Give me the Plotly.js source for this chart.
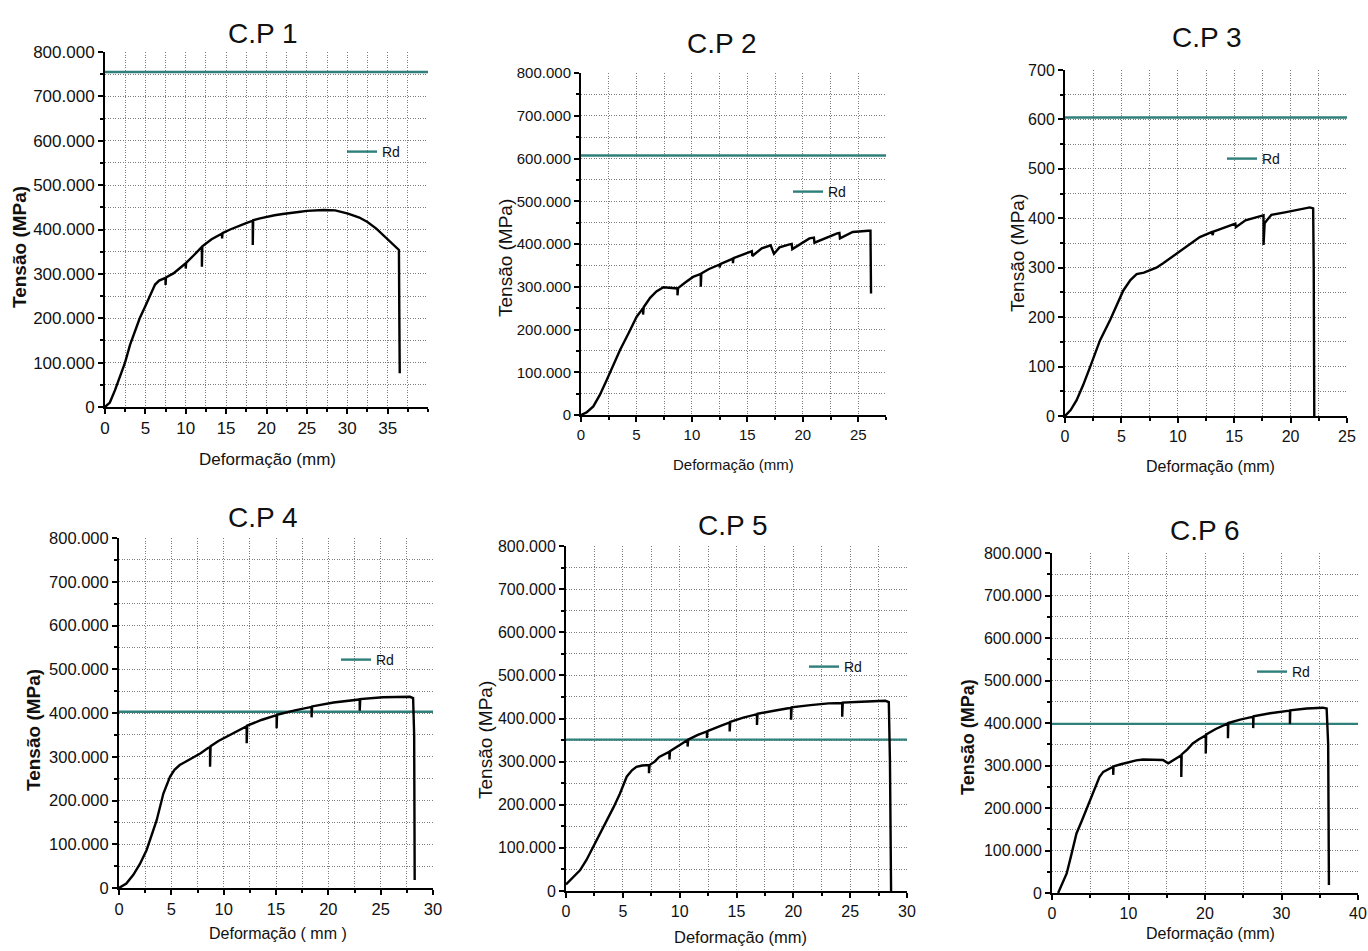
<!DOCTYPE html>
<html>
<head>
<meta charset="utf-8">
<script src="https://cdn.plot.ly/plotly-3.0.1.min.js"></script>
<style>html,body{margin:0;padding:0;background:#fff;}#chart{width:1368px;height:951px;}</style>
</head>
<body>
<div id="chart"></div>
<script>
// ---------------- DATA ----------------
const panelTitles = ['C.P 1', 'C.P 2', 'C.P 3', 'C.P 4', 'C.P 5', 'C.P 6'];
const yAxisTitle = 'Tensão (MPa)';
const xAxisTitles = ['Deformação (mm)', 'Deformação (mm)', 'Deformação (mm)', 'Deformação ( mm )', 'Deformação (mm)', 'Deformação (mm)'];
const rdName = 'Rd';
const rdValues = [755, 607, 604, 403, 351, 398];

const cp1X = [0, 0.6, 1.24, 1.9, 2.48, 3.1, 3.72, 4.3, 4.96, 5.6, 6.2, 6.7, 7.24, 7.5, 7.5, 7.55, 8.47, 9.3, 10, 10, 10.05, 11, 12.0, 12.0, 12.05, 13.2, 14.5, 14.5, 14.55, 15.5, 16.5, 17.4, 18.3, 18.3, 18.35, 19.2, 20.06, 21, 22, 23, 24.2, 25, 26, 27.1, 28.5, 29.3, 30.1, 31.5, 32.5, 33.6, 34.5, 35.5, 36.4, 36.45, 36.5];
const cp1Y = [0, 10, 38, 70, 100, 140, 173, 200, 226, 253, 276, 285, 290, 291, 275, 292, 301, 313, 324, 312, 325, 342, 361, 316, 362, 378, 391, 380, 392, 400, 408, 414, 420, 365, 421, 425, 429, 432, 435, 438, 440, 442, 443, 444, 443, 440, 436, 427, 417, 402, 386, 370, 354, 200, 76];

const cp2X = [0, 0.5, 1.11, 1.7, 2.32, 2.9, 3.52, 4.3, 5.02, 5.6, 5.6, 5.65, 6.23, 6.8, 7.43, 8.0, 8.7, 8.7, 8.75, 9.4, 10.1, 10.8, 10.8, 10.85, 11.5, 12.2, 12.5, 12.5, 12.55, 13.7, 13.7, 13.75, 15.3, 15.4, 15.45, 16.3, 17.1, 17.4, 17.6, 17.9, 18.8, 19.0, 19.05, 20.6, 21.0, 21.05, 23.1, 23.3, 23.35, 24.5, 25.9, 26.1, 26.15];
const cp2Y = [0, 6, 20, 47, 82, 118, 152, 192, 230, 250, 235, 252, 274, 289, 299, 298, 296, 280, 297, 310, 323, 330, 300, 331, 341, 350, 352, 345, 353, 366, 355, 367, 382, 383, 372, 390, 397, 377, 383, 392, 399, 400, 388, 413, 415, 403, 425, 426, 413, 428, 431, 431, 284];

const cp3X = [0, 0.5, 1.03, 1.6, 2.22, 3.1, 4.0, 4.6, 5.17, 5.8, 6.35, 7.0, 7.5, 8.1, 8.7, 9.9, 11.0, 11.95, 13.0, 13.1, 13.15, 14.9, 15.1, 15.15, 16.0, 17.25, 17.6, 17.6, 17.7, 17.9, 18.3, 19.5, 20.4, 21.0, 21.7, 22.0, 22.05, 22.1];
const cp3Y = [0, 12, 32, 62, 99, 153, 194, 225, 254, 275, 287, 290, 294, 300, 309, 329, 346, 362, 372, 366, 373, 388, 389, 382, 396, 404, 406, 346, 390, 396, 407, 412, 416, 419, 422, 420, 300, 0];

const cp4X = [0, 0.7, 1.37, 2.0, 2.64, 3.1, 3.6, 4.24, 4.87, 5.3, 5.8, 6.4, 6.96, 7.8, 8.5, 8.7, 8.7, 8.75, 9.5, 10.3, 11.3, 12.2, 12.2, 12.25, 13.6, 15.06, 15.06, 15.1, 16.8, 18.4, 18.4, 18.45, 20.5, 21.8, 23.0, 23.0, 23.05, 25.2, 27.8, 28.1, 28.2, 28.25];
const cp4Y = [0, 10, 30, 55, 87, 118, 155, 216, 254, 270, 281, 289, 296, 308, 320, 322, 277, 324, 336, 346, 358, 370, 331, 371, 384, 395, 365, 396, 406, 414, 390, 415, 424, 428, 431, 405, 432, 436, 437, 434, 350, 18];

const cp5X = [0, 0.6, 1.23, 1.8, 2.4, 3.0, 3.58, 4.2, 4.75, 5.34, 5.8, 6.2, 6.7, 7.2, 7.3, 7.3, 7.35, 7.8, 8.2, 9.1, 9.1, 9.15, 9.8, 10.4, 10.7, 10.7, 10.75, 11.6, 12.4, 12.4, 12.45, 13.6, 14.4, 14.4, 14.45, 15.6, 16.8, 16.8, 16.85, 18.3, 19.8, 19.8, 19.85, 21.5, 23.1, 24.3, 24.3, 24.35, 26.0, 28.1, 28.4, 28.5, 28.6];
const cp5Y = [15, 30, 48, 72, 102, 134, 164, 195, 226, 265, 280, 288, 291, 292, 292, 273, 292, 300, 311, 323, 305, 324, 335, 346, 350, 335, 351, 362, 370, 355, 371, 383, 391, 370, 392, 402, 410, 385, 411, 418, 425, 397, 426, 431, 435, 436, 404, 437, 439, 441, 438, 300, 0];

const cp6X = [0.8, 1.3, 1.92, 2.5, 3.2, 3.9, 4.5, 5.2, 5.8, 6.2, 6.7, 7.3, 8.0, 8.0, 8.05, 9.0, 10.2, 11.0, 11.9, 13.0, 14.0, 14.5, 15.2, 15.8, 16.9, 16.9, 16.95, 17.7, 18.4, 19.2, 20.1, 20.1, 20.15, 21.4, 22.2, 23.0, 23.0, 23.05, 24.6, 26.3, 26.3, 26.35, 28.5, 31.1, 31.1, 31.15, 33.3, 35.4, 35.9, 36.1, 36.2];
const cp6Y = [0, 20, 46, 88, 140, 170, 197, 228, 258, 273, 285, 291, 297, 278, 298, 303, 309, 312, 314, 314, 314, 313, 305, 311, 324, 273, 326, 338, 352, 362, 371, 328, 373, 386, 393, 399, 364, 400, 408, 415, 388, 416, 423, 429, 398, 430, 434, 436, 434, 350, 19];

// tick labels
const yTickVals800 = [0, 100, 200, 300, 400, 500, 600, 700, 800];
const yTickText800 = ['0', '100.000', '200.000', '300.000', '400.000', '500.000', '600.000', '700.000', '800.000'];
const yTickVals700 = [0, 100, 200, 300, 400, 500, 600, 700];
const yTickText700 = ['0', '100', '200', '300', '400', '500', '600', '700'];
const xTickVals35 = [0, 5, 10, 15, 20, 25, 30, 35];
const xTickVals25 = [0, 5, 10, 15, 20, 25];
const xTickVals30 = [0, 5, 10, 15, 20, 25, 30];
const xTickVals40 = [0, 10, 20, 30, 40];

// ---------------- LAYOUT ----------------
const W = 1368, H = 951;
const seriesX = [cp1X, cp2X, cp3X, cp4X, cp5X, cp6X];
const seriesY = [cp1Y, cp2Y, cp3Y, cp4Y, cp5Y, cp6Y];

function steps(a, b, s) { const r = []; for (let v = a; v <= b + 1e-9; v += s) r.push(+v.toFixed(3)); return r; }

const panels = [
  {box: [105, 428, 52, 407], xr: [0, 40], xt: xTickVals35, xm: 2.5, yr: [0, 800], yt: yTickVals800, ytt: yTickText800,
   fs: 17, title: [263, 33], ytitle: [20, 247], ytBold: true, ytSize: 19, xtitle: [267, 459], xtSize: 17, leg: [342, 152]},
  {box: [581, 886, 73, 415], xr: [0, 27.5], xt: xTickVals25, xm: 2.5, yr: [0, 800], yt: yTickVals800, ytt: yTickText800,
   fs: 15, title: [722, 43], ytitle: [505, 258], ytBold: false, ytSize: 19, xtitle: [733, 464], xtSize: 15, leg: [788, 192]},
  {box: [1065, 1347, 70, 416], xr: [0, 25], xt: xTickVals25, xm: 2.5, yr: [0, 700], yt: yTickVals700, ytt: yTickText700,
   fs: 16, title: [1207, 38], ytitle: [1017, 253], ytBold: false, ytSize: 19, xtitle: [1210, 466], xtSize: 16, leg: [1222, 159]},
  {box: [119, 433, 538, 888], xr: [0, 30], xt: xTickVals30, xm: 2.5, yr: [0, 800], yt: yTickVals800, ytt: yTickText800,
   fs: 16.5, title: [263, 517], ytitle: [33, 730], ytBold: true, ytSize: 19, xtitle: [278, 933], xtSize: 16, leg: [336, 660]},
  {box: [566, 907, 546, 891], xr: [0, 30], xt: xTickVals30, xm: 2.5, yr: [0, 800], yt: yTickVals800, ytt: yTickText800,
   fs: 16, title: [733, 525], ytitle: [485, 740], ytBold: false, ytSize: 19, xtitle: [740, 937], xtSize: 16.5, leg: [804, 667]},
  {box: [1052, 1358, 553, 893], xr: [0, 40], xt: xTickVals40, xm: 5, yr: [0, 800], yt: yTickVals800, ytt: yTickText800,
   fs: 16, title: [1205, 530], ytitle: [968, 737], ytBold: true, ytSize: 18, xtitle: [1210, 933], xtSize: 16, leg: [1252, 672]}
];

const FONT = 'Liberation Sans, Arial, Helvetica, sans-serif';
const GRID = '#7d7d7d';
const TEAL = '#2f7f7a';
const data = [];
const layout = {
  width: W, height: H, margin: {l: 0, r: 0, t: 0, b: 0},
  paper_bgcolor: '#ffffff', plot_bgcolor: '#ffffff',
  font: {family: FONT, color: '#111'},
  annotations: []
};

panels.forEach((p, i) => {
  const n = i + 1;
  const xa = 'xaxis' + (n === 1 ? '' : n), ya = 'yaxis' + (n === 1 ? '' : n);
  const xr = 'x' + (n === 1 ? '' : n), yr = 'y' + (n === 1 ? '' : n);
  const legName = n === 1 ? 'legend' : 'legend' + n;
  const [l, r, t, b] = p.box;
  const common = {
    showline: true, linecolor: '#000', linewidth: 2, mirror: false, zeroline: false,
    ticks: 'outside', ticklen: 5, tickwidth: 2, tickcolor: '#000',
    showgrid: true, gridcolor: GRID, gridwidth: 1, griddash: '1px,1.5px',
    tickfont: {family: FONT, size: p.fs, color: '#111'}, fixedrange: true
  };
  layout[xa] = Object.assign({}, common, {
    domain: [l / W, r / W], range: p.xr, anchor: yr,
    tickmode: 'array', tickvals: p.xt, ticktext: p.xt.map(String),
    minor: {tickmode: 'array', tickvals: steps(0, p.xr[1], p.xm), ticks: 'outside', ticklen: 3, tickwidth: 2, tickcolor: '#000',
            showgrid: true, gridcolor: GRID, gridwidth: 1, griddash: '1px,1.5px'}
  });
  layout[ya] = Object.assign({}, common, {
    domain: [1 - b / H, 1 - t / H], range: p.yr, anchor: xr,
    tickmode: 'array', tickvals: p.yt, ticktext: p.ytt,
    minor: {tickmode: 'array', tickvals: steps(0, p.yr[1], 50), ticks: 'outside', ticklen: 3, tickwidth: 2, tickcolor: '#000',
            showgrid: true, gridcolor: GRID, gridwidth: 1, griddash: '1px,1.5px'}
  });
  // Rd reference line
  data.push({
    type: 'scatter', mode: 'lines', name: rdName, x: [p.xr[0], p.xr[1]], y: [rdValues[i], rdValues[i]],
    xaxis: xr, yaxis: yr, line: {color: TEAL, width: 2.4}, showlegend: true, legend: legName, hoverinfo: 'skip'
  });
  // test curve
  data.push({
    type: 'scatter', mode: 'lines', name: panelTitles[i], x: seriesX[i], y: seriesY[i],
    xaxis: xr, yaxis: yr, line: {color: '#000', width: 2.4}, showlegend: false
  });
  layout[legName] = {
    x: p.leg[0] / W, y: 1 - p.leg[1] / H, xanchor: 'left', yanchor: 'middle',
    bgcolor: 'rgba(0,0,0,0)', borderwidth: 0, itemwidth: 30,
    font: {family: FONT, size: 14, color: '#111'}
  };
  layout.annotations.push({
    xref: 'paper', yref: 'paper', x: p.title[0] / W, y: 1 - p.title[1] / H, xanchor: 'center', yanchor: 'middle',
    text: panelTitles[i], showarrow: false, font: {family: FONT, size: 28, color: '#111'}
  });
  layout.annotations.push({
    xref: 'paper', yref: 'paper', x: p.ytitle[0] / W, y: 1 - p.ytitle[1] / H, xanchor: 'center', yanchor: 'middle',
    text: p.ytBold ? '<b>' + yAxisTitle + '</b>' : yAxisTitle, textangle: -90, showarrow: false,
    font: {family: FONT, size: p.ytSize, color: '#111'}
  });
  layout.annotations.push({
    xref: 'paper', yref: 'paper', x: p.xtitle[0] / W, y: 1 - p.xtitle[1] / H, xanchor: 'center', yanchor: 'middle',
    text: xAxisTitles[i], showarrow: false, font: {family: FONT, size: p.xtSize, color: '#111'}
  });
});

Plotly.newPlot('chart', data, layout, {displayModeBar: false, staticPlot: true});
</script>
</body>
</html>
